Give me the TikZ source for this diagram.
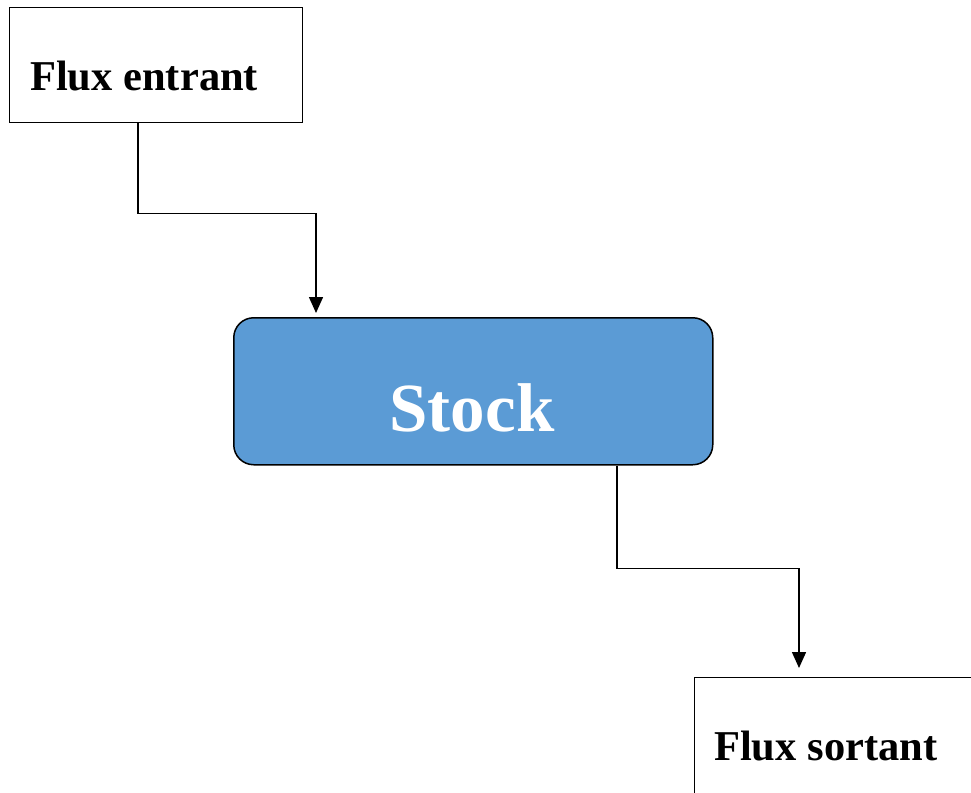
\documentclass[tikz,border=0pt]{standalone}
\usepackage{fontspec}
\setmainfont{Liberation Serif}
\usetikzlibrary{arrows.meta}
\definecolor{stockblue}{HTML}{5B9BD5}
\begin{document}
\begin{tikzpicture}[x=1pt,y=1pt,
  box/.style={draw=black, line width=1.4pt, rectangle, inner sep=0pt, anchor=north west, fill=white},
  lbl/.style={anchor=base west, inner sep=0pt, font=\fontsize{42.5}{48}\selectfont\bfseries},
  arr/.style={draw=black, line width=1.5pt, -{Triangle[length=16pt,width=14pt]}}]
\useasboundingbox (0,0) rectangle (971,-792);
\clip (0,0) rectangle (971,-792);
\node[box, minimum width=293pt, minimum height=115pt] (fe) at (9,-7) {};
\node[lbl] (fet) at (30,-90) {Flux entrant};
\node[draw=black, line width=1.5pt, fill=stockblue, rounded corners=20pt, anchor=north west,
      minimum width=479pt, minimum height=147pt, inner sep=0pt] (st) at (233,-317) {};
\node[text=white, font=\fontsize{69}{76}\selectfont\bfseries, inner sep=0pt, anchor=base] (stt) at (472,-431) {Stock};
\node[box, minimum width=400pt, minimum height=200pt] (fs) at (694,-677) {};
\node[lbl] (fst) at (714,-760) {Flux sortant};
\draw[arr] ([xshift=129pt]fe.south west) -- ++(0,-90) -| ([xshift=83pt,yshift=4pt]st.north west);
\draw[arr] ([xshift=384pt]st.south west) -- ++(0,-103) -| ([xshift=105pt,yshift=9pt]fs.north west);
\end{tikzpicture}
\end{document}
